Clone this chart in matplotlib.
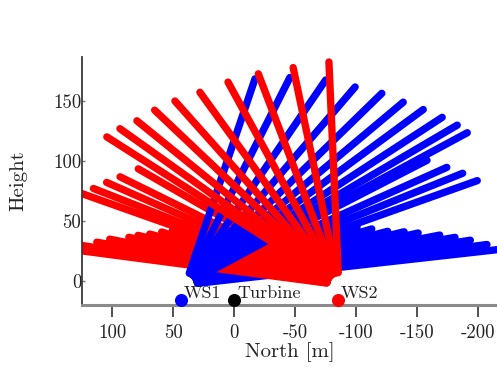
import numpy as np
import matplotlib.pyplot as plt

plt.rcParams['font.family'] = ['cmr10', 'DejaVu Serif']
plt.rcParams['mathtext.fontset'] = 'cm'
plt.rcParams['axes.unicode_minus'] = False
plt.rcParams['axes.formatter.use_mathtext'] = False

# stations on the ground
stations = ['WS1', 'Turbine', 'WS2']
station_north = [43.5, 0.0, -85.5]
station_colors = ['blue', 'black', 'red']
marker_height = -15.5

# lidar scan origins (north, height) and first range gate
ws1_origin = (40.0, -3.0)
ws2_origin = (-86.0, -3.0)
min_range = 10.0

# WS1 (blue) looks towards negative north: elevation [deg], last range [m]
ws1_low_elev = [6.5, 7.7, 9.0, 10.1, 11.2, 12.7, 13.8, 15.0, 16.9, 18.8,
                19.9, 22.2, 24.5, 27.6]
ws1_low_range = [280, 250, 237, 225, 213, 196, 185, 172, 160, 149,
                 255, 246, 236, 224]
ws1_high_elev = [28.7, 30.8, 33.5, 36.8, 40.4, 44.7, 49.8, 56.0, 63.6, 71.6]
ws1_high_range = [264, 260, 253, 244, 235, 227, 216, 206, 193, 181]

# WS2 (red) looks towards positive north
ws2_low_elev = [7.6, 8.8, 10.1, 11.4, 12.9, 14.0, 15.2, 16.8, 18.4,
                19.8, 21.7, 24.1, 26.6, 30.4]
ws2_low_range = [240, 220, 202, 192, 177, 170, 161, 152, 144,
                 235, 217, 209, 201, 191]
ws2_high_elev = [32.9, 35.9, 39.5, 43.9, 48.7, 54.6, 61.7, 69.4, 78.3, 87.5]
ws2_high_range = [227, 222, 215, 210, 204, 197, 192, 188, 185, 186]


def draw_scans(ax, origin, direction, elevs, ranges, color):
    for elev, rmax in zip(elevs, ranges):
        a = np.deg2rad(elev)
        r = np.array([min_range, rmax])
        x = origin[0] + direction * r * np.cos(a)
        y = origin[1] + r * np.sin(a)
        ax.plot(x, y, color=color, lw=5.3, solid_capstyle='round')


fig = plt.figure(figsize=(4.97, 3.67), dpi=100)
ax = fig.add_axes([82 / 497, 1 - 305 / 367, 415 / 497, 248 / 367])

draw_scans(ax, ws1_origin, -1, ws1_low_elev, ws1_low_range, 'blue')
draw_scans(ax, ws2_origin, 1, ws2_low_elev, ws2_low_range, 'red')
draw_scans(ax, ws1_origin, -1, ws1_high_elev, ws1_high_range, 'blue')
draw_scans(ax, ws2_origin, 1, ws2_high_elev, ws2_high_range, 'red')

for name, xn, c in zip(stations, station_north, station_colors):
    ax.plot(xn, marker_height, 'o', color=c, ms=8.4, clip_on=False, zorder=5)
    ax.annotate(name, (xn, marker_height), xytext=(2, 1), textcoords='offset points',
                ha='left', va='baseline', fontsize=13, color='#222222')

ax.set_xlim(125, -216)
ax.set_ylim(-20, 187)
ax.set_xticks([100, 50, 0, -50, -100, -150, -200])
ax.set_yticks([0, 50, 100, 150])

for s in ['top', 'right']:
    ax.spines[s].set_visible(False)
ax.spines['left'].set_color('#3a3a3a')
ax.spines['left'].set_linewidth(1.3)
ax.spines['bottom'].set_color('#8a8a8a')
ax.spines['bottom'].set_linewidth(2.2)

ax.tick_params(axis='x', direction='out', length=8.5, width=1.2, color='#333333',
               pad=5.5, labelsize=13.5, labelcolor='#222222')
ax.tick_params(axis='y', direction='in', length=2.5, width=1.0, color='#777777',
               pad=0.5, labelsize=13.5, labelcolor='#222222')

ax.set_xlabel('North [m]', fontsize=15, color='#222222', labelpad=0)
ax.set_ylabel('Height', fontsize=15, color='#222222')
ax.yaxis.set_label_coords(-0.1325, 0.5)

fig.savefig('out.png', dpi=100)
